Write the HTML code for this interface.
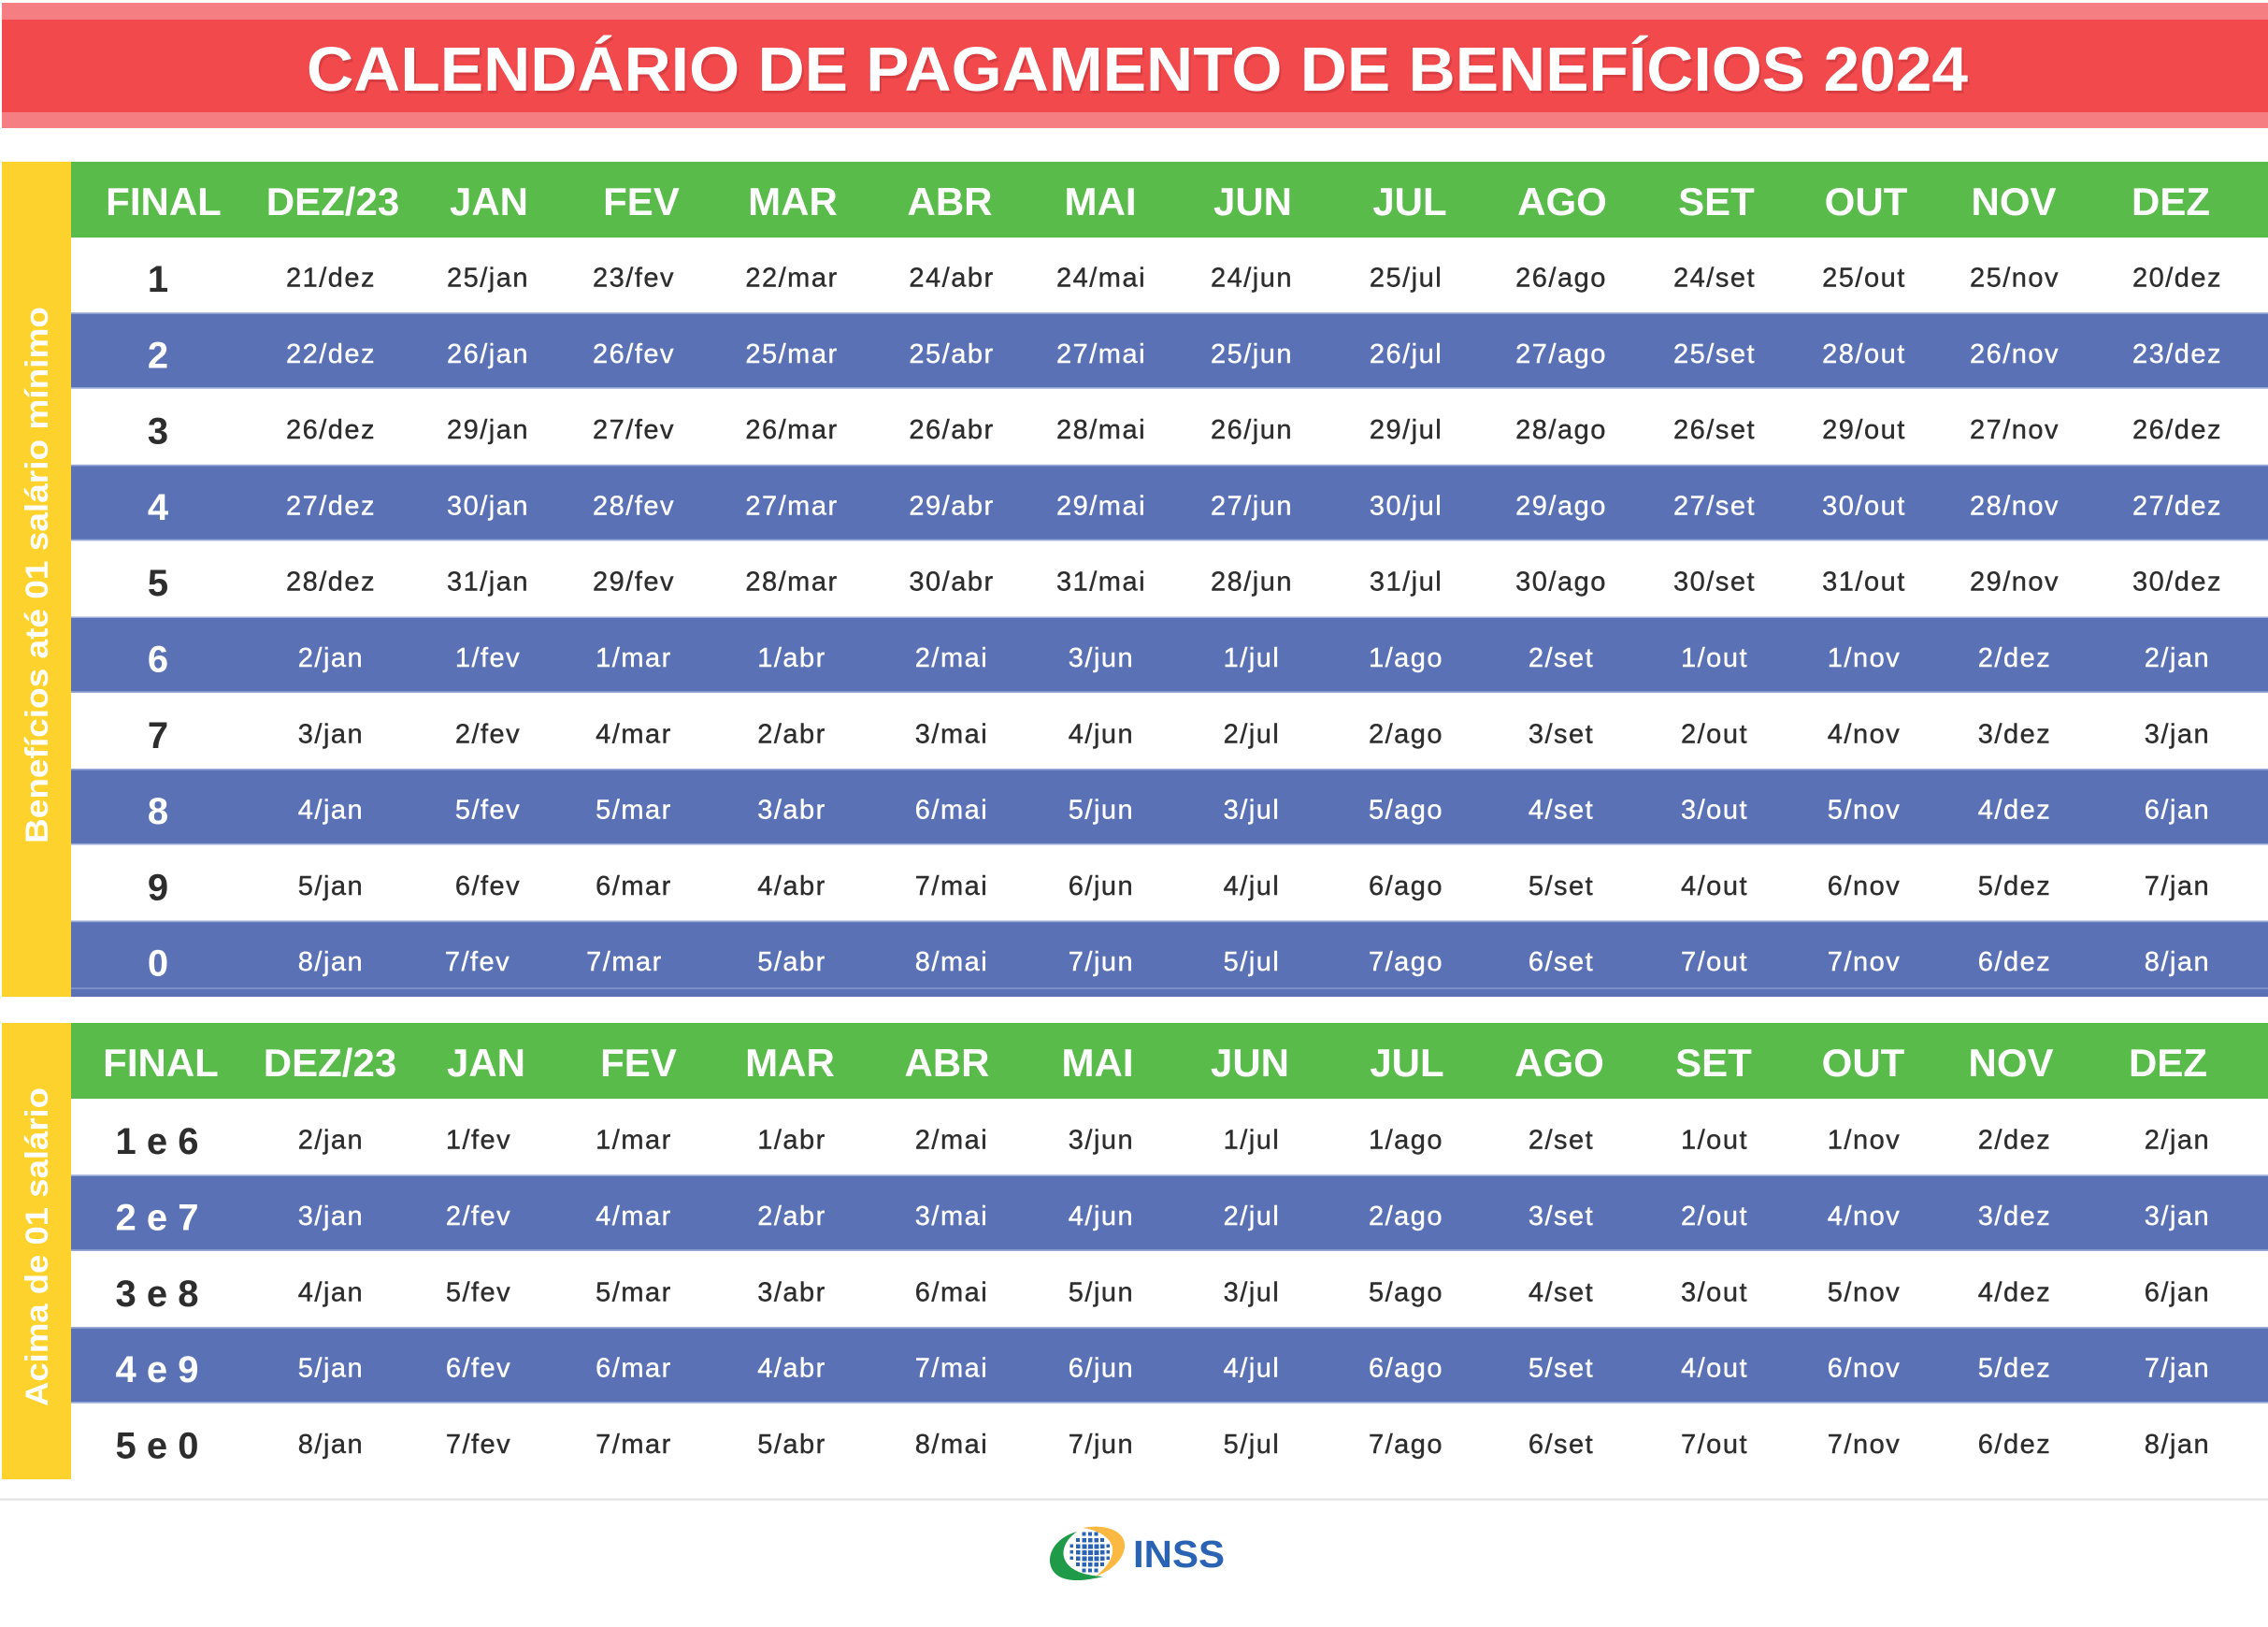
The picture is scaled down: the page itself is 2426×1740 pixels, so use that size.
<!DOCTYPE html>
<html><head><meta charset="utf-8">
<style>
html,body{margin:0;padding:0;background:#fff;}
svg{display:block;}
.d{font-family:"Liberation Sans",sans-serif;font-size:29px;letter-spacing:1.5px;text-anchor:middle;stroke-width:0.4px;}
.dk{fill:#2d2d2d;}
.d.dk{stroke:#2d2d2d;}
.wh{fill:#ffffff;}
.d.wh{stroke:#ffffff;}
.n{font-family:"Liberation Sans",sans-serif;font-weight:bold;font-size:40px;text-anchor:middle;}
.h{font-family:"Liberation Sans",sans-serif;font-weight:bold;font-size:42px;fill:#fff;text-anchor:middle;}
.lab{font-family:"Liberation Sans",sans-serif;font-weight:bold;font-size:34px;fill:#fff;text-anchor:middle;}
</style></head>
<body>
<svg width="2426" height="1740" viewBox="0 0 2426 1740" xmlns="http://www.w3.org/2000/svg">
<rect x="0" y="0" width="2426" height="1740" fill="#fff"/>
<!-- Title banner -->
<rect x="2" y="3" width="2424" height="134" fill="#f47e81"/>
<rect x="2" y="21" width="2424" height="99" fill="#f2494c"/>
<text x="1218.5" y="100" font-family="Liberation Sans, sans-serif" font-weight="bold" font-size="67" fill="#c8363a" opacity="0.6" text-anchor="middle" textLength="1777" lengthAdjust="spacingAndGlyphs">CALENDÁRIO DE PAGAMENTO DE BENEFÍCIOS 2024</text>
<text x="1216.5" y="97" font-family="Liberation Sans, sans-serif" font-weight="bold" font-size="67" fill="#ffffff" text-anchor="middle" textLength="1777" lengthAdjust="spacingAndGlyphs">CALENDÁRIO DE PAGAMENTO DE BENEFÍCIOS 2024</text>

<!-- TABLE 1 -->
<rect x="2" y="173" width="74" height="893" fill="#fdd22c"/>
<rect x="76" y="173" width="2350" height="81" fill="#59bb4a"/>
<rect x="76" y="254" width="2350" height="812" fill="#fff"/>
<rect x="76" y="334.3" width="2350" height="81.3" fill="#5a72b5"/>
<rect x="76" y="496.9" width="2350" height="81.3" fill="#5a72b5"/>
<rect x="76" y="659.5" width="2350" height="81.3" fill="#5a72b5"/>
<rect x="76" y="822.1" width="2350" height="81.3" fill="#5a72b5"/>
<rect x="76" y="984.7" width="2350" height="81.3" fill="#5a72b5"/>
<g fill="#9aabda">
<rect x="76" y="334.3" width="2350" height="1.5"/><rect x="76" y="414.1" width="2350" height="1.5"/>
<rect x="76" y="496.9" width="2350" height="1.5"/><rect x="76" y="576.7" width="2350" height="1.5"/>
<rect x="76" y="659.5" width="2350" height="1.5"/><rect x="76" y="739.3" width="2350" height="1.5"/>
<rect x="76" y="822.1" width="2350" height="1.5"/><rect x="76" y="901.9" width="2350" height="1.5"/>
<rect x="76" y="984.7" width="2350" height="1.5"/><rect x="76" y="1056.5" width="2350" height="1"/>
</g>
<text class="lab" transform="translate(51,615) rotate(-90)" textLength="574" lengthAdjust="spacingAndGlyphs">Benefícios até 01 salário mínimo</text>

<text class="h" y="230"><tspan x="175">FINAL</tspan><tspan x="356">DEZ/23</tspan><tspan x="523">JAN</tspan><tspan x="686">FEV</tspan><tspan x="848">MAR</tspan><tspan x="1016">ABR</tspan><tspan x="1177">MAI</tspan><tspan x="1340">JUN</tspan><tspan x="1508">JUL</tspan><tspan x="1671">AGO</tspan><tspan x="1836">SET</tspan><tspan x="1996">OUT</tspan><tspan x="2154">NOV</tspan><tspan x="2322">DEZ</tspan></text>

<text class="n dk" x="169" y="312">1</text>
<text class="n wh" x="169" y="393.3">2</text>
<text class="n dk" x="169" y="474.6">3</text>
<text class="n wh" x="169" y="555.9">4</text>
<text class="n dk" x="169" y="637.2">5</text>
<text class="n wh" x="169" y="718.5">6</text>
<text class="n dk" x="169" y="799.8">7</text>
<text class="n wh" x="169" y="881.1">8</text>
<text class="n dk" x="169" y="962.4">9</text>
<text class="n wh" x="169" y="1043.7">0</text>

<text class="d dk" y="306.5"><tspan x="354">21/dez</tspan><tspan x="522">25/jan</tspan><tspan x="678">23/fev</tspan><tspan x="847">22/mar</tspan><tspan x="1018">24/abr</tspan><tspan x="1178">24/mai</tspan><tspan x="1339">24/jun</tspan><tspan x="1504">25/jul</tspan><tspan x="1670">26/ago</tspan><tspan x="1834">24/set</tspan><tspan x="1994">25/out</tspan><tspan x="2155">25/nov</tspan><tspan x="2329">20/dez</tspan></text>
<text class="d wh" y="387.8"><tspan x="354">22/dez</tspan><tspan x="522">26/jan</tspan><tspan x="678">26/fev</tspan><tspan x="847">25/mar</tspan><tspan x="1018">25/abr</tspan><tspan x="1178">27/mai</tspan><tspan x="1339">25/jun</tspan><tspan x="1504">26/jul</tspan><tspan x="1670">27/ago</tspan><tspan x="1834">25/set</tspan><tspan x="1994">28/out</tspan><tspan x="2155">26/nov</tspan><tspan x="2329">23/dez</tspan></text>
<text class="d dk" y="469.1"><tspan x="354">26/dez</tspan><tspan x="522">29/jan</tspan><tspan x="678">27/fev</tspan><tspan x="847">26/mar</tspan><tspan x="1018">26/abr</tspan><tspan x="1178">28/mai</tspan><tspan x="1339">26/jun</tspan><tspan x="1504">29/jul</tspan><tspan x="1670">28/ago</tspan><tspan x="1834">26/set</tspan><tspan x="1994">29/out</tspan><tspan x="2155">27/nov</tspan><tspan x="2329">26/dez</tspan></text>
<text class="d wh" y="550.4"><tspan x="354">27/dez</tspan><tspan x="522">30/jan</tspan><tspan x="678">28/fev</tspan><tspan x="847">27/mar</tspan><tspan x="1018">29/abr</tspan><tspan x="1178">29/mai</tspan><tspan x="1339">27/jun</tspan><tspan x="1504">30/jul</tspan><tspan x="1670">29/ago</tspan><tspan x="1834">27/set</tspan><tspan x="1994">30/out</tspan><tspan x="2155">28/nov</tspan><tspan x="2329">27/dez</tspan></text>
<text class="d dk" y="631.7"><tspan x="354">28/dez</tspan><tspan x="522">31/jan</tspan><tspan x="678">29/fev</tspan><tspan x="847">28/mar</tspan><tspan x="1018">30/abr</tspan><tspan x="1178">31/mai</tspan><tspan x="1339">28/jun</tspan><tspan x="1504">31/jul</tspan><tspan x="1670">30/ago</tspan><tspan x="1834">30/set</tspan><tspan x="1994">31/out</tspan><tspan x="2155">29/nov</tspan><tspan x="2329">30/dez</tspan></text>
<text class="d wh" y="713"><tspan x="354">2/jan</tspan><tspan x="522">1/fev</tspan><tspan x="678">1/mar</tspan><tspan x="847">1/abr</tspan><tspan x="1018">2/mai</tspan><tspan x="1178">3/jun</tspan><tspan x="1339">1/jul</tspan><tspan x="1504">1/ago</tspan><tspan x="1670">2/set</tspan><tspan x="1834">1/out</tspan><tspan x="1994">1/nov</tspan><tspan x="2155">2/dez</tspan><tspan x="2329">2/jan</tspan></text>
<text class="d dk" y="794.3"><tspan x="354">3/jan</tspan><tspan x="522">2/fev</tspan><tspan x="678">4/mar</tspan><tspan x="847">2/abr</tspan><tspan x="1018">3/mai</tspan><tspan x="1178">4/jun</tspan><tspan x="1339">2/jul</tspan><tspan x="1504">2/ago</tspan><tspan x="1670">3/set</tspan><tspan x="1834">2/out</tspan><tspan x="1994">4/nov</tspan><tspan x="2155">3/dez</tspan><tspan x="2329">3/jan</tspan></text>
<text class="d wh" y="875.6"><tspan x="354">4/jan</tspan><tspan x="522">5/fev</tspan><tspan x="678">5/mar</tspan><tspan x="847">3/abr</tspan><tspan x="1018">6/mai</tspan><tspan x="1178">5/jun</tspan><tspan x="1339">3/jul</tspan><tspan x="1504">5/ago</tspan><tspan x="1670">4/set</tspan><tspan x="1834">3/out</tspan><tspan x="1994">5/nov</tspan><tspan x="2155">4/dez</tspan><tspan x="2329">6/jan</tspan></text>
<text class="d dk" y="956.9"><tspan x="354">5/jan</tspan><tspan x="522">6/fev</tspan><tspan x="678">6/mar</tspan><tspan x="847">4/abr</tspan><tspan x="1018">7/mai</tspan><tspan x="1178">6/jun</tspan><tspan x="1339">4/jul</tspan><tspan x="1504">6/ago</tspan><tspan x="1670">5/set</tspan><tspan x="1834">4/out</tspan><tspan x="1994">6/nov</tspan><tspan x="2155">5/dez</tspan><tspan x="2329">7/jan</tspan></text>
<text class="d wh" y="1038.2"><tspan x="354">8/jan</tspan><tspan x="511">7/fev</tspan><tspan x="668">7/mar</tspan><tspan x="847">5/abr</tspan><tspan x="1018">8/mai</tspan><tspan x="1178">7/jun</tspan><tspan x="1339">5/jul</tspan><tspan x="1504">7/ago</tspan><tspan x="1670">6/set</tspan><tspan x="1834">7/out</tspan><tspan x="1994">7/nov</tspan><tspan x="2155">6/dez</tspan><tspan x="2329">8/jan</tspan></text>

<!-- TABLE 2 -->
<rect x="2" y="1094" width="74" height="488" fill="#fdd22c"/>
<rect x="76" y="1094" width="2350" height="81" fill="#59bb4a"/>
<rect x="76" y="1175" width="2350" height="407" fill="#fff"/>
<rect x="76" y="1256.4" width="2350" height="81.4" fill="#5a72b5"/>
<rect x="76" y="1419.2" width="2350" height="81.4" fill="#5a72b5"/>
<g fill="#9aabda">
<rect x="76" y="1256.4" width="2350" height="1.5"/><rect x="76" y="1336.3" width="2350" height="1.5"/>
<rect x="76" y="1419.2" width="2350" height="1.5"/><rect x="76" y="1499.1" width="2350" height="1.5"/>
</g>
<text class="lab" transform="translate(51,1333.5) rotate(-90)" textLength="341" lengthAdjust="spacingAndGlyphs">Acima de 01 salário</text>

<text class="h" y="1151"><tspan x="172">FINAL</tspan><tspan x="353">DEZ/23</tspan><tspan x="520">JAN</tspan><tspan x="683">FEV</tspan><tspan x="845">MAR</tspan><tspan x="1013">ABR</tspan><tspan x="1174">MAI</tspan><tspan x="1337">JUN</tspan><tspan x="1505">JUL</tspan><tspan x="1668">AGO</tspan><tspan x="1833">SET</tspan><tspan x="1993">OUT</tspan><tspan x="2151">NOV</tspan><tspan x="2319">DEZ</tspan></text>

<text class="n dk" x="168" y="1234">1 e 6</text>
<text class="n wh" x="168" y="1315.4">2 e 7</text>
<text class="n dk" x="168" y="1396.8">3 e 8</text>
<text class="n wh" x="168" y="1478.2">4 e 9</text>
<text class="n dk" x="168" y="1559.6">5 e 0</text>

<text class="d dk" y="1228.5"><tspan x="354">2/jan</tspan><tspan x="512">1/fev</tspan><tspan x="678">1/mar</tspan><tspan x="847">1/abr</tspan><tspan x="1018">2/mai</tspan><tspan x="1178">3/jun</tspan><tspan x="1339">1/jul</tspan><tspan x="1504">1/ago</tspan><tspan x="1670">2/set</tspan><tspan x="1834">1/out</tspan><tspan x="1994">1/nov</tspan><tspan x="2155">2/dez</tspan><tspan x="2329">2/jan</tspan></text>
<text class="d wh" y="1309.9"><tspan x="354">3/jan</tspan><tspan x="512">2/fev</tspan><tspan x="678">4/mar</tspan><tspan x="847">2/abr</tspan><tspan x="1018">3/mai</tspan><tspan x="1178">4/jun</tspan><tspan x="1339">2/jul</tspan><tspan x="1504">2/ago</tspan><tspan x="1670">3/set</tspan><tspan x="1834">2/out</tspan><tspan x="1994">4/nov</tspan><tspan x="2155">3/dez</tspan><tspan x="2329">3/jan</tspan></text>
<text class="d dk" y="1391.3"><tspan x="354">4/jan</tspan><tspan x="512">5/fev</tspan><tspan x="678">5/mar</tspan><tspan x="847">3/abr</tspan><tspan x="1018">6/mai</tspan><tspan x="1178">5/jun</tspan><tspan x="1339">3/jul</tspan><tspan x="1504">5/ago</tspan><tspan x="1670">4/set</tspan><tspan x="1834">3/out</tspan><tspan x="1994">5/nov</tspan><tspan x="2155">4/dez</tspan><tspan x="2329">6/jan</tspan></text>
<text class="d wh" y="1472.7"><tspan x="354">5/jan</tspan><tspan x="512">6/fev</tspan><tspan x="678">6/mar</tspan><tspan x="847">4/abr</tspan><tspan x="1018">7/mai</tspan><tspan x="1178">6/jun</tspan><tspan x="1339">4/jul</tspan><tspan x="1504">6/ago</tspan><tspan x="1670">5/set</tspan><tspan x="1834">4/out</tspan><tspan x="1994">6/nov</tspan><tspan x="2155">5/dez</tspan><tspan x="2329">7/jan</tspan></text>
<text class="d dk" y="1554.1"><tspan x="354">8/jan</tspan><tspan x="512">7/fev</tspan><tspan x="678">7/mar</tspan><tspan x="847">5/abr</tspan><tspan x="1018">8/mai</tspan><tspan x="1178">7/jun</tspan><tspan x="1339">5/jul</tspan><tspan x="1504">7/ago</tspan><tspan x="1670">6/set</tspan><tspan x="1834">7/out</tspan><tspan x="1994">7/nov</tspan><tspan x="2155">6/dez</tspan><tspan x="2329">8/jan</tspan></text>

<!-- footer separator -->
<rect x="0" y="1602.5" width="2426" height="2" fill="#e0e0e0"/>

<!-- INSS logo -->
<g>
<path d="M1152 1638 C1126 1645 1116 1668 1128 1682 C1138 1693 1160 1691 1180 1686 C1160 1685 1146 1680 1140 1670 C1134 1660 1139 1647 1152 1638 Z" fill="#1f9a48"/>
<path d="M1158 1634 C1184 1629 1205 1638 1203 1655 C1201 1668 1190 1679 1172 1686 C1186 1675 1193 1662 1189 1652 C1185 1642 1172 1636 1158 1634 Z" fill="#fbb843"/>
<g fill="#2a63b4">
<rect x="1157.5" y="1638.5" width="4" height="4"/><rect x="1164" y="1638.5" width="4" height="4"/><rect x="1170.5" y="1638.5" width="4" height="4"/>
<rect x="1151" y="1645" width="4" height="4"/><rect x="1157.5" y="1645" width="4.5" height="4.5"/><rect x="1164" y="1645" width="4.5" height="4.5"/><rect x="1170.5" y="1645" width="4.5" height="4.5"/><rect x="1177" y="1645" width="4" height="4"/>
<rect x="1144.5" y="1651.5" width="3.5" height="3.5"/><rect x="1151" y="1651.5" width="4.5" height="4.5"/><rect x="1157.5" y="1651.5" width="5" height="5"/><rect x="1164" y="1651.5" width="5" height="5"/><rect x="1170.5" y="1651.5" width="5" height="5"/><rect x="1177" y="1651.5" width="4.5" height="4.5"/><rect x="1183.5" y="1651.5" width="3.5" height="3.5"/>
<rect x="1144.5" y="1658" width="3.5" height="3.5"/><rect x="1151" y="1658" width="4.5" height="4.5"/><rect x="1157.5" y="1658" width="5" height="5"/><rect x="1164" y="1658" width="5" height="5"/><rect x="1170.5" y="1658" width="5" height="5"/><rect x="1177" y="1658" width="4.5" height="4.5"/><rect x="1183.5" y="1658" width="3.5" height="3.5"/>
<rect x="1144.5" y="1664.5" width="3.5" height="3.5"/><rect x="1151" y="1664.5" width="4.5" height="4.5"/><rect x="1157.5" y="1664.5" width="5" height="5"/><rect x="1164" y="1664.5" width="5" height="5"/><rect x="1170.5" y="1664.5" width="5" height="5"/><rect x="1177" y="1664.5" width="4.5" height="4.5"/><rect x="1183.5" y="1664.5" width="3.5" height="3.5"/>
<rect x="1151" y="1671" width="4" height="4"/><rect x="1157.5" y="1671" width="4.5" height="4.5"/><rect x="1164" y="1671" width="4.5" height="4.5"/><rect x="1170.5" y="1671" width="4.5" height="4.5"/><rect x="1177" y="1671" width="4" height="4"/>
<rect x="1157.5" y="1677.5" width="4" height="4"/><rect x="1164" y="1677.5" width="4" height="4"/><rect x="1170.5" y="1677.5" width="4" height="4"/>
</g>
<text x="1212" y="1676" font-family="Liberation Sans, sans-serif" font-weight="bold" font-size="41" fill="#2a63b4" textLength="98" lengthAdjust="spacingAndGlyphs">INSS</text>
</g>
</svg>
</body></html>
